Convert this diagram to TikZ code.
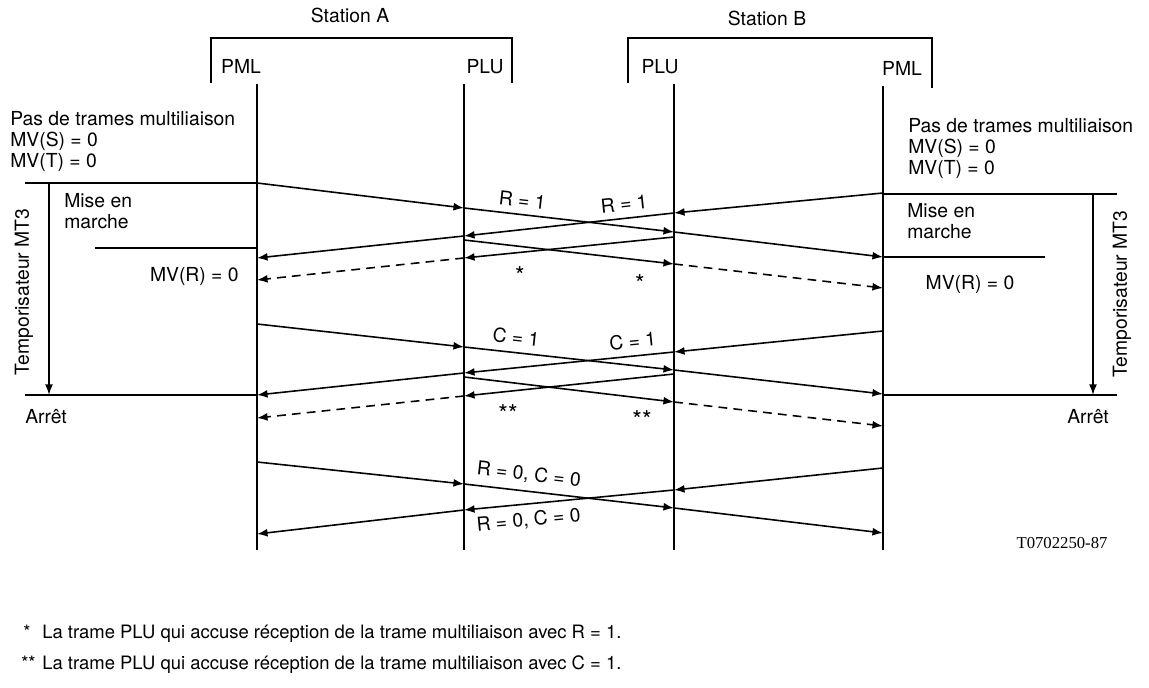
\documentclass[tikz,border=0pt]{standalone}
\usepackage{fontspec}
\setmainfont{TeX Gyre Heros}
\newfontfamily\refserif{Liberation Serif}
\usetikzlibrary{arrows.meta}
\begin{document}
\begin{tikzpicture}[x=0.02cm, y=-0.02cm,
    every node/.style={font=\fontsize{11}{12}\selectfont, inner sep=0pt},
    header/.style={anchor=base},
    note/.style={align=left, anchor=north west},
    lifeline/.style={line width=1pt},
    bracket/.style={line width=0.9pt},
    timer/.style={line width=0.9pt},
    msg/.style={line width=0.9pt, -{Latex[length=6pt,width=4.5pt]}},
    ack/.style={msg, dash pattern=on 5pt off 3.5pt},
    param/.style={sloped, pos=#1},
    star/.style={font=\fontsize{14}{14}\selectfont},
    footnote/.style={font=\fontsize{10.5}{12}\selectfont}
  ]
  \useasboundingbox (0,0) rectangle (1149,688);

  \node[header] (stationA) at (350,23) {Station A};
  \node[header] (stationB) at (767,26) {Station B};
  \draw[bracket] (211,83) |- (512,38) -- (512,83);
  \draw[bracket] (628,83) |- (932,38) -- (932,88);

  \node[header] (hdrPmlA) at (241,74) {PML};
  \node[header] (hdrPluA) at (485,74) {PLU};
  \node[header] (hdrPluB) at (660,74) {PLU};
  \node[header] (hdrPmlB) at (902,76) {PML};

  \coordinate (pmlA) at (257,84);
  \coordinate (pluA) at (464,84);
  \coordinate (pluB) at (674,84);
  \coordinate (pmlB) at (883,86);
  \foreach \l in {pmlA,pluA,pluB,pmlB} {
    \draw[lifeline] (\l) -- (\l |- 0,550);
  }

  \node[note] (stateA) at (10,111) {Pas de trames multiliaison\\MV(S) = 0\\MV(T) = 0};
  \node[note] (stateB) at (908,118) {Pas de trames multiliaison\\MV(S) = 0\\MV(T) = 0};

  % temporisateur MT3, station A
  \coordinate (startA) at (25,183);
  \coordinate (runA) at (95,248);
  \coordinate (stopA) at (25,395);
  \draw[timer] (startA) -- (pmlA |- startA);
  \draw[timer] (runA) -- (pmlA |- runA);
  \draw[timer] (stopA) -- (pmlA |- stopA);
  \draw[msg] (49,183) coordinate (tA1) -- (49,395) coordinate (tA2);
  \node[note] (miseA) at (64,193) {Mise en\\marche};
  \node[anchor=east] (mvrA) at (239,277) {MV(R) = 0};
  \node[rotate=90] (mt3A) at (24,292) {Temporisateur MT3};
  \node[anchor=west] (arretA) at (25,417) {Arrêt};

  % temporisateur MT3, station B
  \coordinate (startB) at (1117,194);
  \coordinate (runB) at (1045,257);
  \coordinate (stopB) at (1117,395);
  \draw[timer] (pmlB |- startB) -- (startB);
  \draw[timer] (pmlB |- runB) -- (runB);
  \draw[timer] (pmlB |- stopB) -- (stopB);
  \draw[msg] (1093,194) coordinate (tB1) -- (1093,395) coordinate (tB2);
  \node[note] (miseB) at (907,203) {Mise en\\marche};
  \node (mvrB) at (970,285) {MV(R) = 0};
  \node[rotate=90] (mt3B) at (1122,294) {Temporisateur MT3};
  \node (arretB) at (1088,417) {Arrêt};

  % R = 1
  \draw[msg] (pmlA |- 0,183) -- (pluA |- 0,208);
  \draw[msg] (pluA |- 0,208) -- node[param=0.27, above=4pt] (r1A) {R = 1} (pluB |- 0,232);
  \draw[msg] (pluB |- 0,232) -- (pmlB |- 0,257);
  \draw[msg] (pmlB |- 0,193) -- (pluB |- 0,213);
  \draw[msg] (pluB |- 0,213) -- node[param=0.23, above=4pt] (r1B) {R = 1} (pluA |- 0,236);
  \draw[msg] (pluA |- 0,236) -- (pmlA |- 0,258);
  \draw[msg] (pluA |- 0,240) -- (pluB |- 0,264);
  \draw[ack] (pluB |- 0,264) -- (pmlB |- 0,288);
  \draw[msg] (pluB |- 0,237) -- (pluA |- 0,258);
  \draw[ack] (pluA |- 0,258) -- (pmlA |- 0,280);
  \node[star] (ackR1) at (520,276) {*};
  \node[star] (ackR2) at (640,284) {*};

  % C = 1
  \draw[msg] (pmlA |- 0,324) -- (pluA |- 0,347);
  \draw[msg] (pluA |- 0,347) -- node[param=0.24, above=4pt] (c1A) {C = 1} (pluB |- 0,370);
  \draw[msg] (pluB |- 0,370) -- (pmlB |- 0,394);
  \draw[msg] (pmlB |- 0,331) -- (pluB |- 0,352);
  \draw[msg] (pluB |- 0,352) -- node[param=0.19, above=4pt] (c1B) {C = 1} (pluA |- 0,373);
  \draw[msg] (pluA |- 0,373) -- (pmlA |- 0,395);
  \draw[msg] (pluA |- 0,377) -- (pluB |- 0,402);
  \draw[ack] (pluB |- 0,402) -- (pmlB |- 0,426);
  \draw[msg] (pluB |- 0,374) -- (pluA |- 0,396);
  \draw[ack] (pluA |- 0,396) -- (pmlA |- 0,418);
  \node[star] (ackC1) at (508,414) {**};
  \node[star] (ackC2) at (642,420) {**};

  % R = 0, C = 0
  \draw[msg] (pmlA |- 0,462) -- (pluA |- 0,484);
  \draw[msg] (pluA |- 0,484) -- node[param=0.3, above=4pt] (r0A) {R = 0, C = 0} (pluB |- 0,508);
  \draw[msg] (pluB |- 0,508) -- (pmlB |- 0,533);
  \draw[msg] (pmlB |- 0,468) -- (pluB |- 0,490);
  \draw[msg] (pluB |- 0,490) -- node[param=0.7, below=4pt] (r0B) {R = 0, C = 0} (pluA |- 0,510);
  \draw[msg] (pluA |- 0,510) -- (pmlA |- 0,534);

  \node (figref) at (1062,543) {\refserif\fontsize{9.5}{11}\selectfont T0702250-87};

  \node[footnote, anchor=base east] (fnStar1) at (31,639) {*};
  \node[footnote, anchor=base west] (fnText1) at (42,639) {La trame PLU qui accuse réception de la trame multiliaison avec R = 1.};
  \node[footnote, anchor=base east] (fnStar2) at (36,669) {**};
  \node[footnote, anchor=base west] (fnText2) at (42,669) {La trame PLU qui accuse réception de la trame multiliaison avec C = 1.};
\end{tikzpicture}
\end{document}
